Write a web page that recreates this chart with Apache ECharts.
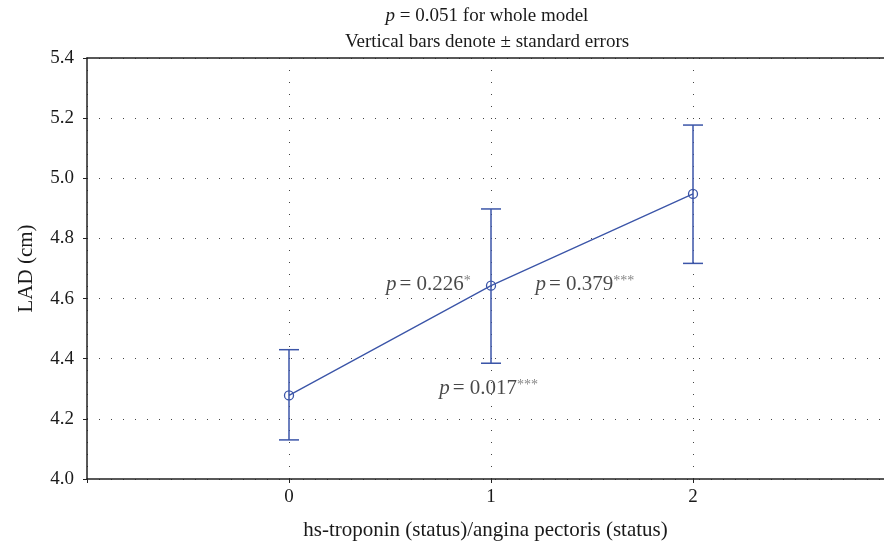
<!DOCTYPE html>
<html>
<head>
<meta charset="utf-8">
<script src="https://cdn.jsdelivr.net/npm/echarts@6/dist/echarts.min.js"></script>
<style>
  html, body { margin: 0; padding: 0; background: #fff; }
  #chart { width: 884px; height: 546px; }
</style>
</head>
<body>
<div id="chart"></div>
<script>
// groups on the x axis (status codes)
const groups = [0, 1, 2];
// group means and +/- standard error bounds
const means = [4.278, 4.643, 4.948];
const lower = [4.130, 4.385, 4.717];
const upper = [4.430, 4.898, 5.177];
// y tick values
const yTicks = [4.0, 4.2, 4.4, 4.6, 4.8, 5.0, 5.2, 5.4];
// p-value annotations: [x, y, p text, stars]
const notes = [
    [0.69, 4.647, '0.226', '*'],
    [1.465, 4.647, '0.379', '***'],
    [0.988, 4.300, '0.017', '***']
];

const blue = '#3b55a8';
const ink = '#1a1a1a';
const serif = '"Liberation Serif", "DejaVu Serif", serif';
const dotted = { type: [1, 11], color: '#444', width: 1 };

const chart = echarts.init(document.getElementById('chart'));

chart.setOption({
    animation: false,
    textStyle: { fontFamily: serif },
    title: {
        left: 482,
        top: -2,
        textAlign: 'center',
        text: '{i|p} = 0.051 for whole model\nVertical bars denote ± standard errors',
        textStyle: {
            fontFamily: serif,
            fontWeight: 'normal',
            fontSize: 19,
            color: ink,
            lineHeight: 26,
            rich: {
                i: { fontFamily: serif, fontStyle: 'italic', fontSize: 19, color: ink }
            }
        }
    },
    grid: { left: 87, right: -11, top: 58, bottom: 67, containLabel: false, outerBoundsMode: 'none' },
    xAxis: [{
        type: 'value',
        min: -1,
        max: 3,
        interval: 1,
        name: 'hs-troponin (status)/angina pectoris (status)',
        nameLocation: 'middle',
        nameGap: 41,
        nameTextStyle: { fontFamily: serif, fontSize: 21, color: ink, padding: [0, 11, 0, 0] },
        axisLine: { show: true, onZero: false, lineStyle: { color: '#222', width: 1.5 } },
        axisTick: { show: true, length: 4, lineStyle: { color: '#222' } },
        axisLabel: {
            fontFamily: serif, fontSize: 19, color: ink, margin: 9,
            formatter: function (v) { return groups.indexOf(v) >= 0 ? String(v) : ''; }
        },
        splitLine: { show: true, lineStyle: dotted }
    }, {
        type: 'value',
        position: 'top',
        min: -1,
        max: 3,
        axisLine: { show: true, onZero: false, lineStyle: { color: '#222', width: 1.5 } },
        axisTick: { show: false },
        axisLabel: { show: false },
        splitLine: { show: false }
    }],
    yAxis: {
        type: 'value',
        min: yTicks[0],
        max: yTicks[yTicks.length - 1],
        interval: 0.2,
        name: 'LAD (cm)',
        nameLocation: 'middle',
        nameGap: 50,
        nameTextStyle: { fontFamily: serif, fontSize: 21, color: ink },
        axisLine: { show: true, onZero: false, lineStyle: { color: '#222', width: 1.5 } },
        axisTick: { show: true, length: 4, lineStyle: { color: '#222' } },
        axisLabel: {
            fontFamily: serif, fontSize: 19, color: ink, margin: 13,
            formatter: function (v) { return v.toFixed(1); }
        },
        splitLine: { show: true, lineStyle: dotted }
    },
    series: [{
        type: 'custom',
        name: 'se',
        z: 3,
        data: groups.map(function (g, i) { return [g, lower[i], upper[i]]; }),
        renderItem: function (params, api) {
            const x = api.value(0);
            const lo = api.coord([x, api.value(1)]);
            const hi = api.coord([x, api.value(2)]);
            const half = 10;
            const style = { stroke: blue, lineWidth: 1.5, fill: null };
            return {
                type: 'group',
                children: [
                    { type: 'line', shape: { x1: lo[0], y1: lo[1], x2: hi[0], y2: hi[1] }, style: style },
                    { type: 'line', shape: { x1: lo[0] - half, y1: lo[1], x2: lo[0] + half, y2: lo[1] }, style: style },
                    { type: 'line', shape: { x1: hi[0] - half, y1: hi[1], x2: hi[0] + half, y2: hi[1] }, style: style }
                ]
            };
        }
    }, {
        type: 'line',
        name: 'mean',
        z: 4,
        data: groups.map(function (g, i) { return [g, means[i]]; }),
        symbol: 'circle',
        symbolSize: 9,
        itemStyle: { color: 'rgba(0,0,0,0)', borderColor: blue, borderWidth: 1.3 },
        lineStyle: { color: blue, width: 1.3 }
    }, {
        type: 'scatter',
        name: 'notes',
        z: 5,
        symbolSize: 0,
        silent: true,
        data: notes.map(function (n) { return { value: [n[0], n[1]], p: n[2], s: n[3] }; }),
        label: {
            show: true,
            position: 'inside',
            formatter: function (params) {
                return '{i|p} {t|= ' + params.data.p + '}{s|' + params.data.s + '}';
            },
            rich: {
                i: { fontFamily: serif, fontStyle: 'italic', fontSize: 21, color: ink },
                t: { fontFamily: serif, fontSize: 21, color: ink },
                s: { fontFamily: serif, fontSize: 14, color: '#666', verticalAlign: 'top', padding: [0, 0, 7, 0] }
            }
        }
    }]
});
</script>
</body>
</html>
